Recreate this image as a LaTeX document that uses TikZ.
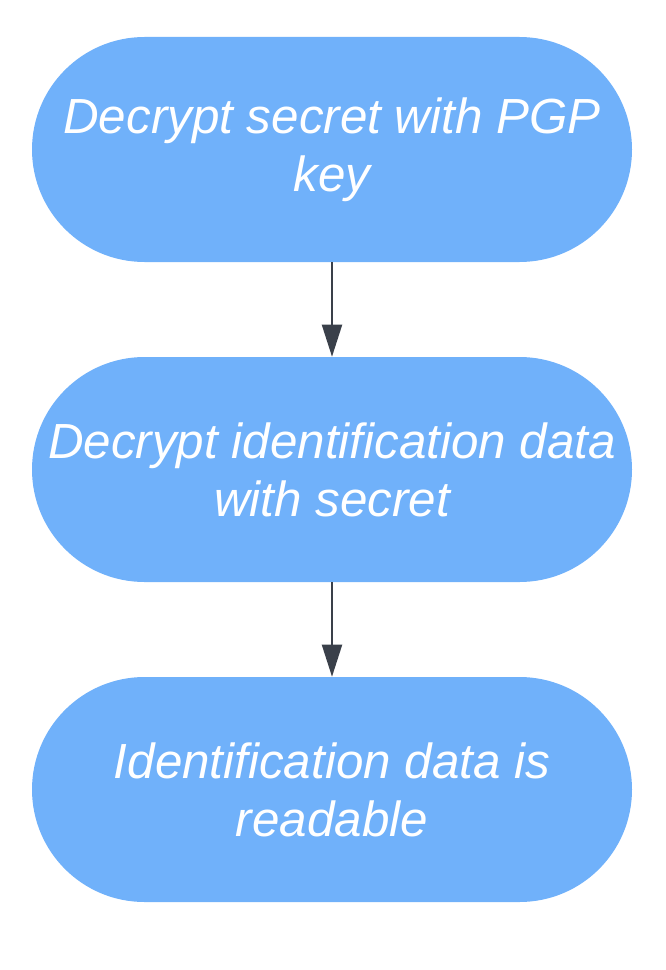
\documentclass[tikz,border=0pt]{standalone}
\usepackage{fontspec}
\setmainfont{Liberation Sans}
\usetikzlibrary{shapes.misc,arrows.meta}
\definecolor{bloccoBlu}{RGB}{112,177,250}
\definecolor{frecciaGrigia}{RGB}{58,64,74}
\begin{document}
\begin{tikzpicture}[x=0.75pt,y=0.75pt,
	passo/.style={rounded rectangle, fill=bloccoBlu, minimum width=450pt, minimum height=168.75pt, inner sep=0pt, align=center, text=white, font=\fontsize{37}{43.5}\selectfont\itshape},
	freccia/.style={-{Triangle[length=24pt,width=15pt]}, line width=1.5pt, draw=frecciaGrigia}]
		
		\useasboundingbox (0,0) rectangle (666,-970);
		
		%Disegno i passi
		\node (decryptSecret) at (332,-149.5) [passo]{Decrypt secret with PGP\\key};
		
		\node (decryptData) at (332,-469.5) [passo]{Decrypt identification data\\with secret};
		
		\node (dataReadable) at (332,-789.5) [passo]{Identification data is\\readable};
		
		%Disegno i collegamenti
		\draw[freccia] (decryptSecret.south) -- (decryptData.north);
		
		\draw[freccia] (decryptData.south) -- (dataReadable.north);
		
\end{tikzpicture}
\end{document}
